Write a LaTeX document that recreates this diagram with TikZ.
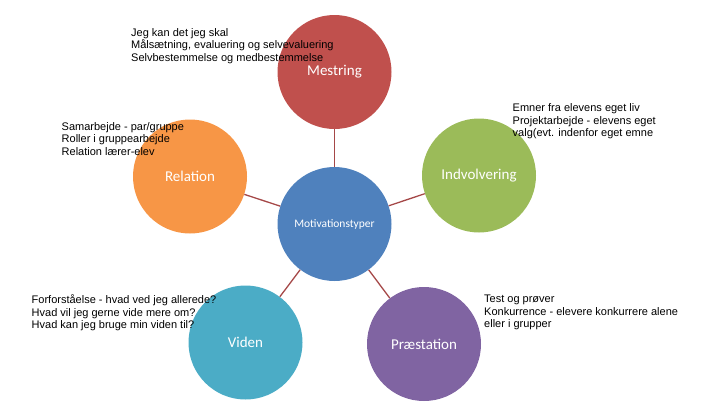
\documentclass[tikz,border=0pt]{standalone}
\usepackage{fontspec}
\setmainfont{Liberation Sans}
\newfontfamily\bubblefont{Carlito}
\usetikzlibrary{positioning}
\definecolor{mestcolor}{RGB}{192,80,77}
\definecolor{indvcolor}{RGB}{155,187,89}
\definecolor{relcolor}{RGB}{247,150,70}
\definecolor{videncolor}{RGB}{75,172,198}
\definecolor{praestcolor}{RGB}{128,100,162}
\definecolor{midcolor}{RGB}{79,129,189}
\definecolor{linkcolor}{RGB}{165,72,72}
\tikzset{
  bubble/.style={circle, minimum size=114pt, inner sep=0pt, text=white,
    font=\bubblefont\fontsize{15}{18}\selectfont},
  linkln/.style={line width=1.3pt, draw=linkcolor},
  notetxt/.style={anchor=base west, inner sep=0pt, align=left,
    font=\fontsize{11}{12.5}\selectfont},
}

\begin{document}
\begin{tikzpicture}[x=1pt, y=-1pt]
    \useasboundingbox (0,0) rectangle (720,405);
    % --- circles ---
    \node[bubble, fill=midcolor, font=\bubblefont\fontsize{11.5}{14}\selectfont]
      (mid) at (334.5,224) {Motivationstyper};
    \node[bubble, fill=mestcolor] (mestring) at (334.5,72) {Mestring};
    \node[bubble, fill=indvcolor] (indvolvering) at (479,175.5) {Indvolvering};
    \node[bubble, fill=relcolor] (relation) at (190,176.5) {Relation};
    \node[bubble, fill=videncolor] (viden) at (245.5,342.5) {Viden};
    \node[bubble, fill=praestcolor] (praestation) at (424,344) {Præstation};
    % --- links ---
    \foreach \outer in {mestring,indvolvering,relation,viden,praestation}
      \draw[linkln] (mid) -- (\outer);
    % --- notes (anchored at last baseline) ---
    \node[notetxt] (mestringtxt) at (131,61) {Jeg kan det jeg skal\\
      Målsætning, evaluering og selvevaluering\\
      Selvbestemmelse og medbestemmelse};
    \node[notetxt] (indvtxt) at (512.5,136.5) {Emner fra elevens eget liv\\
      Projektarbejde - elevens eget\\
      valg(evt. indenfor eget emne};
    \node[notetxt] (reltxt) at (61.5,155) {Samarbejde - par/gruppe\\
      Roller i gruppearbejde\\
      Relation lærer-elev};
    \node[notetxt] (videntxt) at (31.5,328.5) {Forforståelse - hvad ved jeg allerede?\\
      Hvad vil jeg gerne vide mere om?\\
      Hvad kan jeg bruge min viden til?};
    \node[notetxt] (praesttxt) at (484,327.5) {Test og prøver\\
      Konkurrence - elevere konkurrere alene\\
      eller i grupper};
\end{tikzpicture}
\end{document}
